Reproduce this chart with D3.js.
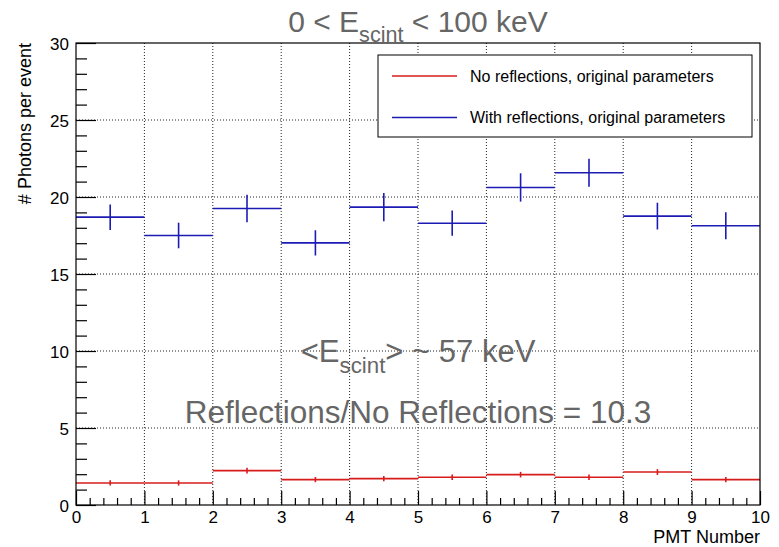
<!DOCTYPE html>
<html>
<head>
<meta charset="utf-8">
<script src="https://cdn.jsdelivr.net/npm/d3@7"></script>
<style>
  body { margin: 0; background: #fff; }
  svg text { font-family: "Liberation Sans", Arial, Helvetica, sans-serif; }
</style>
</head>
<body>
<div id="chart"></div>
<script>
// PMT bins 0..9, each one unit wide
const pmtBins = [0, 1, 2, 3, 4, 5, 6, 7, 8, 9];
const noReflValues = [1.43, 1.43, 2.23, 1.65, 1.71, 1.80, 1.97, 1.80, 2.14, 1.65];
const noReflErrors = [0.17, 0.17, 0.19, 0.17, 0.17, 0.18, 0.18, 0.18, 0.19, 0.17];
const withReflValues = [18.69, 17.50, 19.25, 17.02, 19.34, 18.30, 20.62, 21.57, 18.76, 18.13];
const withReflErrors = [0.83, 0.83, 0.89, 0.82, 0.92, 0.82, 0.92, 0.91, 0.87, 0.88];
const xMajorTicks = [0, 1, 2, 3, 4, 5, 6, 7, 8, 9, 10];
const yMajorTicks = [0, 5, 10, 15, 20, 25, 30];
const legendLabels = ['No reflections, original parameters', 'With reflections, original parameters'];

const W = 779, H = 547;
const margin = { top: 43, right: 19, bottom: 42, left: 76 };
const width = W - margin.left - margin.right;
const height = H - margin.top - margin.bottom;

const svg = d3.select('#chart')
  .append('svg')
  .attr('width', W)
  .attr('height', H)
  .style('background-color', 'white');

const g = svg.append('g')
  .attr('transform', `translate(${margin.left}, ${margin.top})`);

const xScale = d3.scaleLinear().domain([0, 10]).range([0, width]);
const yScale = d3.scaleLinear().domain([0, 30]).range([height, 0]);

// dotted grid
g.append('g')
  .selectAll('line')
  .data(xMajorTicks.slice(1, -1))
  .enter().append('line')
  .attr('x1', d => xScale(d)).attr('x2', d => xScale(d))
  .attr('y1', 0).attr('y2', height)
  .attr('stroke', '#222').attr('stroke-width', 1)
  .attr('stroke-dasharray', '1,2');

g.append('g')
  .selectAll('line')
  .data(yMajorTicks.slice(1, -1))
  .enter().append('line')
  .attr('x1', 0).attr('x2', width)
  .attr('y1', d => yScale(d)).attr('y2', d => yScale(d))
  .attr('stroke', '#222').attr('stroke-width', 1)
  .attr('stroke-dasharray', '1,2');

// histogram with error bars
function drawSeries(values, errors, color) {
  const s = g.append('g');
  s.selectAll('.hbar')
    .data(pmtBins)
    .enter().append('line')
    .attr('x1', d => xScale(d)).attr('x2', d => xScale(d + 1))
    .attr('y1', (d, i) => yScale(values[i])).attr('y2', (d, i) => yScale(values[i]))
    .attr('stroke', color).attr('stroke-width', 1.6);
  s.selectAll('.ebar')
    .data(pmtBins)
    .enter().append('line')
    .attr('x1', d => xScale(d + 0.5)).attr('x2', d => xScale(d + 0.5))
    .attr('y1', (d, i) => yScale(values[i] - errors[i]))
    .attr('y2', (d, i) => yScale(values[i] + errors[i]))
    .attr('stroke', color).attr('stroke-width', 1.6);
}

const seriesColors = ['#d81c1c', '#1c1cb4'];
drawSeries(noReflValues, noReflErrors, seriesColors[0]);
drawSeries(withReflValues, withReflErrors, seriesColors[1]);

// frame
g.append('rect')
  .attr('width', width).attr('height', height)
  .attr('fill', 'none').attr('stroke', '#000').attr('stroke-width', 1.2);

// axes, ROOT style ticks pointing inward
const yMinor = d3.range(0, 31, 1).filter(v => v % 5 !== 0);
const xMinor = d3.range(0, 10.001, 0.2).filter(v => Math.abs(v - Math.round(v)) > 1e-6);

const yAxis = g.append('g')
  .call(d3.axisLeft(yScale).tickValues(yMajorTicks).tickSize(-20).tickPadding(7).tickFormat(d3.format('d')));
g.append('g')
  .call(d3.axisLeft(yScale).tickValues(yMinor).tickSize(-11).tickFormat(''));

const xAxis = g.append('g')
  .attr('transform', `translate(0, ${height})`)
  .call(d3.axisBottom(xScale).tickValues(xMajorTicks).tickSize(-14).tickPadding(6).tickFormat(d3.format('d')));
g.append('g')
  .attr('transform', `translate(0, ${height})`)
  .call(d3.axisBottom(xScale).tickValues(xMinor).tickSize(-7).tickFormat(''));

g.selectAll('.domain').remove();
g.selectAll('.tick line').attr('stroke', '#000').attr('stroke-width', 1.2);
yAxis.selectAll('text').attr('font-size', '17px').attr('fill', '#000').attr('dy', '0.36em');
xAxis.selectAll('text').attr('font-size', '17px').attr('fill', '#000');

// axis titles
svg.append('text')
  .attr('transform', 'rotate(-90)')
  .attr('x', -margin.top)
  .attr('y', 31)
  .attr('text-anchor', 'end')
  .attr('font-size', '18px')
  .attr('fill', '#000')
  .text('# Photons per event');

svg.append('text')
  .attr('x', margin.left + width)
  .attr('y', 543)
  .attr('text-anchor', 'end')
  .attr('font-size', '18px')
  .attr('fill', '#000')
  .text('PMT Number');

// legend
const legend = svg.append('g');
legend.append('rect')
  .attr('x', 378).attr('y', 55)
  .attr('width', 374).attr('height', 82)
  .attr('fill', 'white').attr('stroke', '#000').attr('stroke-width', 1);

legendLabels.forEach((label, i) => {
  const ly = 76 + i * 41.5;
  legend.append('line')
    .attr('x1', 392).attr('x2', 457)
    .attr('y1', ly).attr('y2', ly)
    .attr('stroke', seriesColors[i]).attr('stroke-width', 1.4);
  legend.append('text')
    .attr('x', 470).attr('y', ly + 5.5)
    .attr('font-size', '16px')
    .attr('fill', '#000')
    .text(label);
});

// title and annotations with subscripts
const cx = margin.left + width / 2;

function subText(y, size, pre, sub, post) {
  const t = svg.append('text')
    .attr('x', cx).attr('y', y)
    .attr('text-anchor', 'middle')
    .attr('font-size', size + 'px')
    .attr('fill', '#666');
  t.append('tspan').text(pre);
  t.append('tspan').attr('font-size', (size * 0.72) + 'px').attr('dy', size * 0.34).text(sub);
  t.append('tspan').attr('dy', -size * 0.34).text(post);
}

subText(32, 30, '0 < E', 'scint', ' < 100 keV');
subText(362, 31, '<E', 'scint', '> ~ 57 keV');

svg.append('text')
  .attr('x', cx).attr('y', 423)
  .attr('text-anchor', 'middle')
  .attr('font-size', '31.5px')
  .attr('fill', '#666')
  .text('Reflections/No Reflections = 10.3');
</script>
</body>
</html>
